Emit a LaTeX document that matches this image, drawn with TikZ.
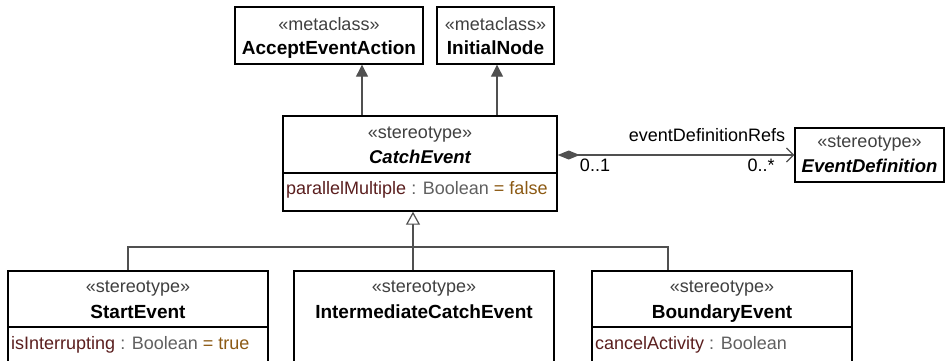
\documentclass[tikz,border=0pt]{standalone}
\usepackage{fontspec}
\setmainfont{Liberation Sans}
\usetikzlibrary{arrows.meta}
\definecolor{stcol}{HTML}{404040}
\definecolor{attrcol}{HTML}{5B1F1F}
\definecolor{typcol}{HTML}{606060}
\definecolor{dvcol}{HTML}{8C5A14}
\definecolor{lncol}{HTML}{505050}
\begin{document}
\begin{tikzpicture}[x=1pt,y=-1pt,
  every node/.style={font=\fontsize{18}{20}\selectfont, inner sep=0pt},
  umlbox/.style={draw=black, line width=1.4pt, rectangle, inner sep=0pt},
  sttext/.style={anchor=base, text=stcol},
  nmtext/.style={anchor=base, font=\fontsize{19}{20}\selectfont\bfseries},
  abtext/.style={anchor=base, font=\fontsize{18.5}{20}\selectfont\bfseries\itshape},
  attext/.style={anchor=base west},
  conn/.style={draw=lncol, line width=1.2pt},
  extarrow/.style={conn, -{Triangle[width=12pt,length=12pt,fill=lncol]}},
  genarrow/.style={conn, -{Triangle[open,width=14pt,length=13pt,fill=white]}},
  comparrow/.style={conn, {Diamond[width=9pt,length=22pt,fill=lncol]}-{Straight Barb[length=7pt,width=14pt]}},
  divider/.style={draw=black, line width=1.2pt}
]
\useasboundingbox (0,0) rectangle (949,360);
\fill[white] (0,0) rectangle (949,360);

% boxes
\node[umlbox, minimum width=188pt, minimum height=57pt] (aea) at (329,35.5) {};
\node[umlbox, minimum width=117pt, minimum height=57pt] (inode) at (495.5,35.5) {};
\node[umlbox, minimum width=274pt, minimum height=95pt] (catch) at (420,163.5) {};
\node[umlbox, minimum width=149pt, minimum height=54pt] (evdef) at (869.5,155) {};
\node[umlbox, minimum width=260pt, minimum height=93pt] (start) at (138,317.5) {};
\node[umlbox, minimum width=260pt, minimum height=93pt] (inter) at (424,317.5) {};
\node[umlbox, minimum width=260pt, minimum height=93pt] (bound) at (722,317.5) {};

% dividers
\coordinate (cdiv) at (0,173);
\coordinate (bdiv) at (0,327);
\draw[divider] (catch.west |- cdiv) -- (catch.east |- cdiv);
\draw[divider] (start.west |- bdiv) -- (start.east |- bdiv);
\draw[divider] (bound.west |- bdiv) -- (bound.east |- bdiv);

% texts
\node[sttext] (aeaS) at (329,30) {«metaclass»};
\node[nmtext] (aeaN) at (329,54) {AcceptEventAction};
\node[sttext] (inS) at (495.5,30) {«metaclass»};
\node[nmtext] (inN) at (495.5,54) {InitialNode};

\node[sttext] (catS) at (420,138.5) {«stereotype»};
\node[abtext] (catN) at (420,163) {CatchEvent};
\node[attext] (catA) at (286,194) {\textcolor{attrcol}{parallelMultiple} \textcolor{typcol}{: Boolean} \textcolor{dvcol}{= false}};

\node[sttext] (evS) at (869.5,147) {«stereotype»};
\node[abtext] (evN) at (869.5,172) {EventDefinition};

\node[sttext] (stS) at (138,292.5) {«stereotype»};
\node[nmtext] (stN) at (138,318) {StartEvent};
\node[attext] (stA) at (11,349) {\textcolor{attrcol}{isInterrupting} \textcolor{typcol}{: Boolean} \textcolor{dvcol}{= true}};

\node[sttext] (itS) at (424,292.5) {«stereotype»};
\node[nmtext] (itN) at (424,318) {IntermediateCatchEvent};

\node[sttext] (bdS) at (722,292.5) {«stereotype»};
\node[nmtext] (bdN) at (722,318) {BoundaryEvent};
\node[attext] (bdA) at (595,349) {\textcolor{attrcol}{cancelActivity} \textcolor{typcol}{: Boolean}};

% extension arrows
\coordinate (xa) at (362,0);
\coordinate (xi) at (497,0);
\draw[extarrow] (catch.north -| xa) -- (aea.south -| xa);
\draw[extarrow] (catch.north -| xi) -- (inode.south -| xi);

% composition
\draw[comparrow] (catch.east |- evdef.west) -- (evdef.west);
\node[anchor=base] (lblRole) at (707,141) {eventDefinitionRefs};
\node[anchor=base] (lblM1) at (595,171) {0..1};
\node[anchor=base] (lblM2) at (761,171) {0..*};

% generalization tree
\coordinate (bus) at (0,247);
\coordinate (sx) at (128,0);
\coordinate (gx) at (413,0);
\coordinate (bx) at (668,0);
\draw[conn] (start.north -| sx) -- (sx |- bus) -- (bx |- bus) -- (bound.north -| bx);
\draw[genarrow] (inter.north -| gx) -- (catch.south -| gx);
\end{tikzpicture}
\end{document}
